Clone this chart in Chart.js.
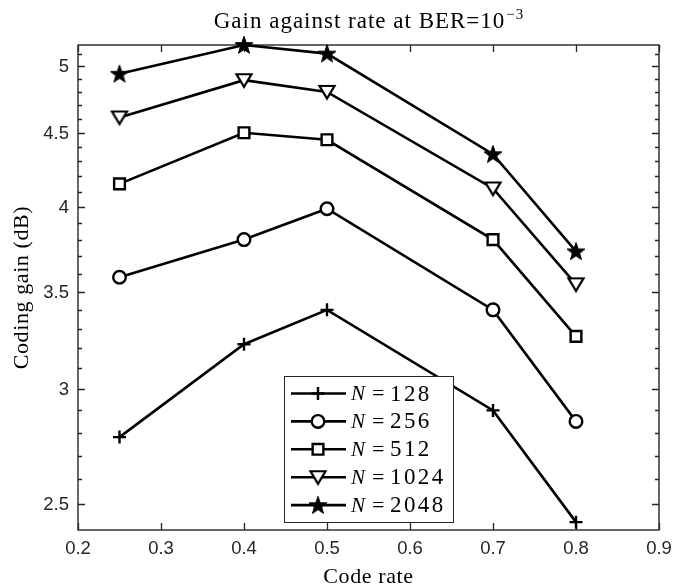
<!DOCTYPE html>
<html><head><meta charset="utf-8">
<script src="https://cdn.jsdelivr.net/npm/chart.js@4.4.0/dist/chart.umd.min.js"></script>
<style>html,body{margin:0;padding:0;background:#fff;}</style>
</head><body>
<canvas id="c" width="673" height="588" style="display:block"></canvas>
<script>
// ---- data ----
const rates = [0.25, 0.4, 0.5, 0.7, 0.8];
const gainN128  = [2.78, 3.22, 3.40, 2.90, 2.43];
const gainN256  = [3.58, 3.80, 3.99, 3.40, 2.85];
const gainN512  = [4.15, 4.50, 4.45, 3.80, 3.26];
const gainN1024 = [4.61, 4.89, 4.80, 4.12, 3.54];
const gainN2048 = [4.94, 5.17, 5.10, 4.35, 3.73];
const seriesN = ['128', '256', '512', '1024', '2048'];
const xTicks = [0.2, 0.3, 0.4, 0.5, 0.6, 0.7, 0.8, 0.9];
const yTicks = [2.5, 3, 3.5, 4, 4.5, 5];
const yMinorTicks = [2.5,2.6,2.7,2.8,2.9,3.0,3.1,3.2,3.3,3.4,3.5,3.6,3.7,3.8,3.9,4.0,4.1,4.2,4.3,4.4,4.5,4.6,4.7,4.8,4.9,5.0,5.1];
const titleMain = 'Gain against rate at BER=10';
const titleSup = '\u22123';
const xLabel = 'Code rate';
const yLabel = 'Coding gain (dB)';

const allGains = [gainN128, gainN256, gainN512, gainN1024, gainN2048];
const yMin = Math.min(...allGains.flat());
const yMax = Math.max(...allGains.flat());

// ---- marker images ----
function makeStar() {
  const c = document.createElement('canvas'); c.width = 22; c.height = 22;
  const g = c.getContext('2d');
  const R = 9.4, r = 3.8, cx = 11, cy = 11.7;
  g.beginPath();
  for (let i = 0; i < 10; i++) {
    const a = -Math.PI / 2 + i * Math.PI / 5;
    const rr = i % 2 === 0 ? R : r;
    const px = cx + rr * Math.cos(a), py = cy + rr * Math.sin(a);
    if (i === 0) g.moveTo(px, py); else g.lineTo(px, py);
  }
  g.closePath();
  g.fillStyle = '#000'; g.fill();
  g.lineWidth = 1; g.strokeStyle = '#000'; g.stroke();
  return c;
}
function makeTriDown() {
  const c = document.createElement('canvas'); c.width = 22; c.height = 22;
  const g = c.getContext('2d');
  g.beginPath();
  g.moveTo(3.5, 5); g.lineTo(18.5, 5); g.lineTo(11, 17.5); g.closePath();
  g.fillStyle = '#fff'; g.fill();
  g.lineWidth = 2.2; g.strokeStyle = '#000'; g.lineJoin = 'miter'; g.stroke();
  return c;
}
const starImg = makeStar();
const triImg = makeTriDown();

const styles = [
  { pointStyle: 'cross', radius: 6.5 },
  { pointStyle: 'circle', radius: 6.3 },
  { pointStyle: 'rect', radius: 7.6 },
  { pointStyle: triImg, radius: 9 },
  { pointStyle: starImg, radius: 9 }
];

const datasets = allGains.map((arr, i) => ({
  label: 'N = ' + seriesN[i],
  data: rates.map((x, j) => ({ x: x, y: arr[j] })),
  borderColor: '#000',
  backgroundColor: '#fff',
  borderWidth: 2.6,
  pointStyle: styles[i].pointStyle,
  pointRadius: styles[i].radius,
  pointBorderWidth: 2.4,
  pointBorderColor: '#000',
  pointBackgroundColor: '#fff',
  tension: 0,
  clip: false
}));

const axisColor = '#262626';
const serif = '"Liberation Serif", "Times New Roman", serif';

const framePlugin = {
  id: 'frame',
  beforeDatasetsDraw(chart) {
    const ctx = chart.ctx, a = chart.chartArea;
    const xs = chart.scales.x, ys = chart.scales.y;
    ctx.save();
    ctx.strokeStyle = axisColor;
    ctx.lineWidth = 1.4;
    ctx.strokeRect(a.left, a.top, a.right - a.left, a.bottom - a.top);
    ctx.lineWidth = 1.3;
    ctx.beginPath();
    xTicks.forEach(v => {
      const px = Math.round(xs.getPixelForValue(v)) + 0.5;
      ctx.moveTo(px, a.bottom); ctx.lineTo(px, a.bottom - 7);
      ctx.moveTo(px, a.top); ctx.lineTo(px, a.top + 7);
    });
    yMinorTicks.forEach(v => {
      const py = Math.round(ys.getPixelForValue(v)) + 0.5;
      const major = yTicks.some(t => Math.abs(t - v) < 1e-6);
      const len = major ? 7 : 4;
      ctx.moveTo(a.left, py); ctx.lineTo(a.left + len, py);
      ctx.moveTo(a.right, py); ctx.lineTo(a.right - len, py);
    });
    ctx.stroke();
    // tick labels
    ctx.fillStyle = axisColor;
    ctx.font = '18.5px "Liberation Sans", Arial, sans-serif';
    ctx.textAlign = 'center'; ctx.textBaseline = 'top';
    xTicks.forEach(v => {
      ctx.fillText(v.toFixed(1), xs.getPixelForValue(v), a.bottom + 10);
    });
    ctx.textAlign = 'right'; ctx.textBaseline = 'middle';
    yTicks.forEach(v => {
      ctx.fillText(String(v), a.left - 9, ys.getPixelForValue(v) + 1);
    });
    // axis labels
    ctx.fillStyle = '#000';
    ctx.font = '22px ' + serif;
    ctx.letterSpacing = '0.6px';
    ctx.textAlign = 'center'; ctx.textBaseline = 'alphabetic';
    ctx.fillText(xLabel, (a.left + a.right) / 2, 583);
    ctx.save();
    ctx.translate(28, (a.top + a.bottom) / 2);
    ctx.rotate(-Math.PI / 2);
    ctx.fillText(yLabel, 0, 0);
    ctx.restore();
    // title
    ctx.letterSpacing = '1px';
    ctx.font = '23px ' + serif;
    const w1 = ctx.measureText(titleMain).width;
    ctx.font = '15px ' + serif;
    const w2 = ctx.measureText(titleSup).width;
    const x0 = (a.left + a.right) / 2 - (w1 + w2) / 2;
    ctx.textAlign = 'left';
    ctx.font = '23px ' + serif;
    ctx.fillText(titleMain, x0, 28);
    ctx.font = '15px ' + serif;
    ctx.fillText(titleSup, x0 + w1 + 1, 19);
    ctx.letterSpacing = '0px';
    ctx.restore();
  },
  afterDraw(chart) {
    const ctx = chart.ctx;
    const bx = 284, by = 376, bw = 169, bh = 146;
    ctx.save();
    ctx.fillStyle = '#fff';
    ctx.fillRect(bx, by, bw, bh);
    ctx.strokeStyle = axisColor; ctx.lineWidth = 1;
    ctx.strokeRect(bx + 0.5, by + 0.5, bw, bh);
    chart.data.datasets.forEach((ds, i) => {
      const y = 393.5 + i * 27.9;
      ctx.strokeStyle = '#000'; ctx.lineWidth = 2.6;
      ctx.beginPath(); ctx.moveTo(291, y); ctx.lineTo(346, y); ctx.stroke();
      ctx.fillStyle = '#fff'; ctx.strokeStyle = '#000'; ctx.lineWidth = 2.4;
      Chart.helpers.drawPoint(ctx, {
        pointStyle: ds.pointStyle, radius: ds.pointRadius, rotation: 0,
        borderWidth: 2.4
      }, 318, y);
      ctx.fillStyle = '#000';
      ctx.textBaseline = 'middle'; ctx.textAlign = 'left';
      ctx.font = 'italic 21px ' + serif;
      ctx.fillText('N', 351, y + 1);
      ctx.font = '22px ' + serif;
      ctx.fillText('=', 372, y + 1);
      ctx.font = '23px ' + serif;
      ctx.letterSpacing = '2.4px';
      ctx.fillText(seriesN[i], 390, y + 1);
      ctx.letterSpacing = '0px';
    });
    ctx.restore();
  }
};

new Chart(document.getElementById('c'), {
  type: 'line',
  data: { datasets: datasets },
  options: {
    responsive: false,
    animation: false,
    devicePixelRatio: 1,
    layout: { padding: { left: 78, right: 14, top: 45, bottom: 58 } },
    scales: {
      x: { type: 'linear', min: 0.2, max: 0.9, display: false },
      y: { type: 'logarithmic', min: yMin, max: yMax, display: false }
    },
    plugins: { legend: { display: false }, title: { display: false }, tooltip: { enabled: false } }
  },
  plugins: [framePlugin]
});
</script>
</body></html>
